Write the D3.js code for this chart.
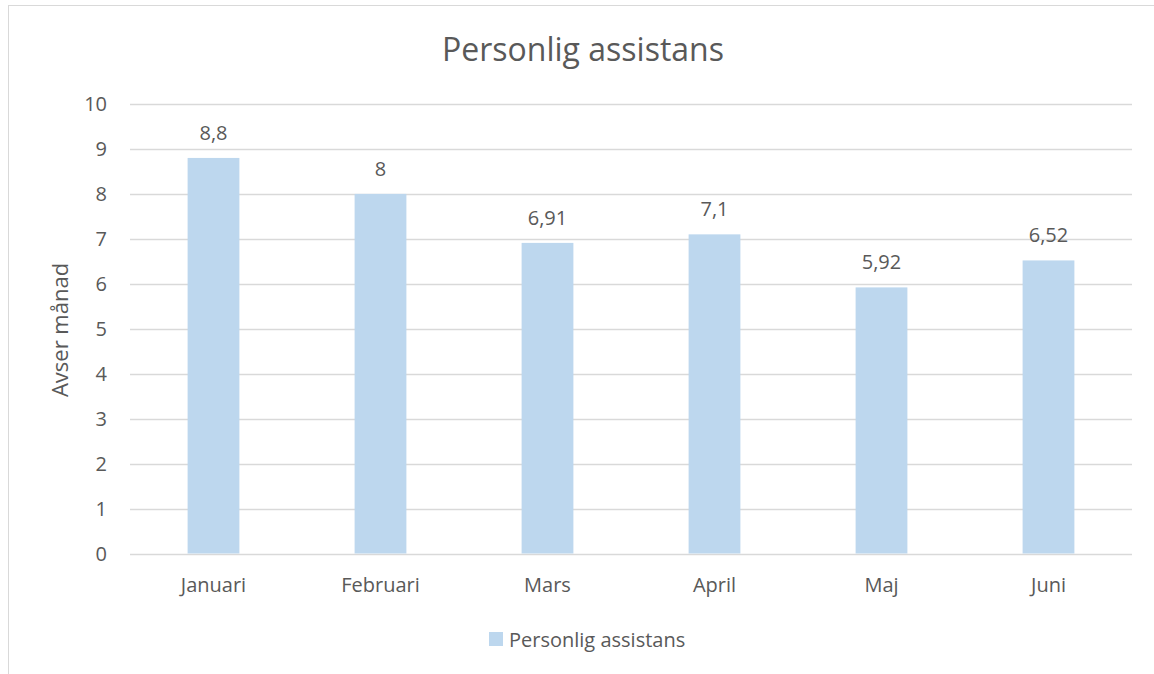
<!DOCTYPE html>
<html><head><meta charset="utf-8">
<script src="https://cdn.jsdelivr.net/npm/d3@7"></script>
<style>body{margin:0;background:#fff;} svg{display:block;} text{font-family:"Open Sans","Noto Sans",sans-serif;fill:#595959;}</style>
</head><body>
<svg id="c" width="1154" height="674"></svg>
<script>
const categories = ["Januari","Februari","Mars","April","Maj","Juni"];
const values = [8.8, 8, 6.91, 7.1, 5.92, 6.52];
const valueLabels = ["8,8","8","6,91","7,1","5,92","6,52"];
const yTicks = [0,1,2,3,4,5,6,7,8,9,10];
const title = "Personlig assistans";
const seriesName = "Personlig assistans";
const yTitle = "Avser månad";

const svg = d3.select("#c");
svg.append("rect").attr("x",8.5).attr("y",5.5).attr("width",1160).attr("height",700)
  .attr("fill","#fff").attr("stroke","#d9d9d9").attr("stroke-width",1);

const x = d3.scaleBand().domain(categories).range([130,1132]).paddingInner(0.69).paddingOuter(0.345);
const y = d3.scaleLinear().domain([0,10]).range([553.5,104]);

const g = svg.append("g");
g.selectAll("line.grid").data(yTicks).enter().append("line")
  .attr("x1",130).attr("x2",1132).attr("y1",d=>Math.round(y(d))+0.5).attr("y2",d=>Math.round(y(d))+0.5)
  .attr("stroke","#d9d9d9").attr("stroke-width",1.5);

g.selectAll("text.yt").data(yTicks).enter().append("text")
  .attr("x",107).attr("y",d=>y(d)).attr("dy","0.35em").attr("text-anchor","end")
  .attr("font-size",20).text(d=>d);

g.selectAll("rect.bar").data(values).enter().append("rect")
  .attr("x",(d,i)=>x(categories[i])).attr("width",x.bandwidth())
  .attr("y",d=>y(d)).attr("height",d=>y(0)-y(d)).attr("fill","#bdd7ee");

g.selectAll("text.vl").data(values).enter().append("text")
  .attr("x",(d,i)=>x(categories[i])+x.bandwidth()/2).attr("y",d=>y(d)-25)
  .attr("dy","0.35em").attr("text-anchor","middle").attr("font-size",20)
  .text((d,i)=>valueLabels[i]);

g.selectAll("text.xl").data(categories).enter().append("text")
  .attr("x",d=>x(d)+x.bandwidth()/2).attr("y",585).attr("dy","0.35em")
  .attr("text-anchor","middle").attr("font-size",20).text(d=>d);

svg.append("text").attr("x",583).attr("y",50).attr("dy","0.35em").attr("text-anchor","middle")
  .attr("font-size",32).text(title);

svg.append("text").attr("transform","translate(60,330) rotate(-90)").attr("dy","0.35em")
  .attr("text-anchor","middle").attr("font-size",22).text(yTitle);

svg.append("rect").attr("x",489).attr("y",632).attr("width",14).attr("height",14).attr("fill","#bdd7ee");
svg.append("text").attr("x",509).attr("y",640).attr("dy","0.35em").attr("font-size",20).text(seriesName);
</script>
</body></html>
